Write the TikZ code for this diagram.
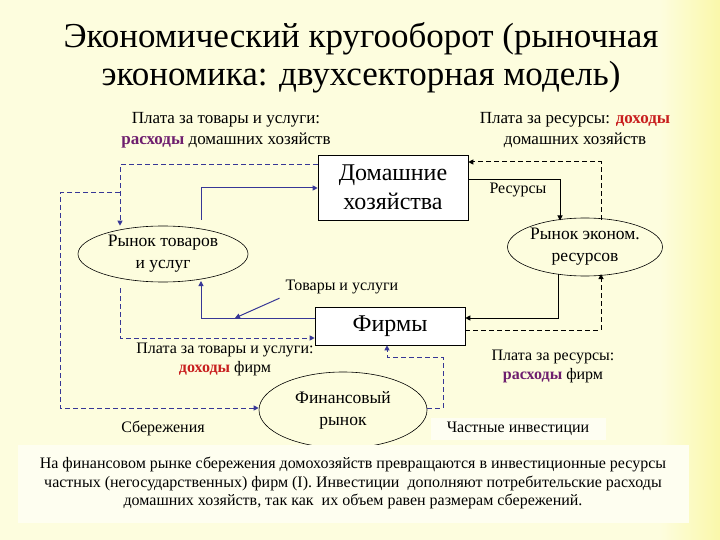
\documentclass[tikz,border=0pt]{standalone}
\usepackage{fontspec}
\setmainfont{Liberation Serif}
\usetikzlibrary{arrows.meta,shapes.geometric}
\definecolor{bgc}{RGB}{253,253,222}
\definecolor{bgr}{RGB}{250,248,170}
\definecolor{ln}{RGB}{55,55,150}
\definecolor{pur}{RGB}{110,30,110}
\definecolor{rd}{RGB}{200,30,30}
\tikzset{
 lbl/.style={font=\fontsize{16}{19}\selectfont,align=center,inner sep=0pt},
 bx/.style={draw,fill=white,line width=0.6pt},
 ell/.style={draw,ellipse,line width=0.6pt,fill=bgc,inner sep=0pt},
 bsol/.style={draw=ln,line width=1pt,-{Triangle[length=5pt,width=5pt]}},
 bdash/.style={draw=ln,line width=1pt,dash pattern=on 5pt off 3pt,-{Triangle[length=5pt,width=5pt]}},
 ksol/.style={draw=black,line width=1pt,-{Triangle[length=5pt,width=5pt]}},
 kdash/.style={draw=black,line width=1pt,dash pattern=on 5pt off 3pt,-{Triangle[length=5pt,width=5pt]}},
}
\begin{document}
\begin{tikzpicture}[x=1pt,y=-1pt]
\useasboundingbox (0,0) rectangle (720,540);
\fill[bgc] (0,0) rectangle (720,540);
\shade[left color=bgc,right color=bgr] (660,0) rectangle (720,540);
\node[font=\fontsize{35}{38}\selectfont,align=center] (title) at (361,58) {Экономический кругооборот (рыночная\\экономика: двухсекторная модель)};
\node[lbl,font=\fontsize{17}{21}\selectfont] (tl) at (226,130) {Плата за товары и услуги:\\\textcolor{pur}{\textbf{расходы}} домашних хозяйств};
\node[lbl,font=\fontsize{17}{21}\selectfont] (tr) at (575,130) {Плата за ресурсы: \textcolor{rd}{\textbf{доходы}}\\домашних хозяйств};
\node[bx,minimum width=150pt,minimum height=65pt,font=\fontsize{24}{29}\selectfont,align=center] (hh) at (393,187.5) {Домашние\\хозяйства};
\node[bx,minimum width=150pt,minimum height=38pt,font=\fontsize{24}{29}\selectfont] (f) at (390,326) {Фирмы};
\node[ell,minimum width=170pt,minimum height=56pt,font=\fontsize{17.5}{22}\selectfont,align=center] (gm) at (163,254) {Рынок товаров\\и услуг};
\node[ell,minimum width=142pt,minimum height=58pt,font=\fontsize{17.5}{22}\selectfont,align=center] (rm) at (585,247) {Рынок эконом.\\ресурсов};
\node[ell,minimum width=168pt,minimum height=76pt,font=\fontsize{17.5}{22}\selectfont,align=center] (fm) at (343,410) {Финансовый\\рынок};
\node[lbl] (res) at (518,190) {Ресурсы};
\node[lbl] (gs) at (342,287) {Товары и услуги};
\node[lbl] (bl) at (225,359) {Плата за товары и услуги:\\\textcolor{rd}{\textbf{доходы}} фирм};
\node[lbl] (br) at (553,366) {Плата за ресурсы:\\\textcolor{pur}{\textbf{расходы}} фирм};
\node[lbl] (sav) at (163,428) {Сбережения};
\node[lbl,fill=white!60!bgc,minimum width=175pt,minimum height=22pt] (inv) at (518,429) {Частные инвестиции};
\node[fill=white!55!bgc,minimum width=671pt,minimum height=78pt,inner sep=0pt] (tb) at (353,484) {};
\node[lbl,font=\fontsize{16}{18.5}\selectfont] (txt) at (353,483) {На финансовом рынке сбережения домохозяйств превращаются в инвестиционные ресурсы\\частных (негосударственных) фирм (I). Инвестиции \ дополняют потребительские расходы\\домашних хозяйств, так как \ их объем равен размерам сбережений.};
% coordinates
\coordinate (a1) at (201,220);
\coordinate (a2) at (201,188);
\coordinate (b1) at (120,165);
\coordinate (b2) at (120,193);
\coordinate (c1) at (60,193);
\coordinate (c2) at (60,408);
\coordinate (d1) at (120,288);
\coordinate (d2) at (120,338);
\coordinate (e1) at (201,318);
\coordinate (g1) at (560,180);
\coordinate (h1) at (601,162);
\coordinate (i1) at (558,318);
\coordinate (j1) at (601,330);
\coordinate (k1) at (443,408);
\coordinate (k2) at (443,357);
\coordinate (k3) at (387,357);
% left side
\draw[bsol] (a1) -- (a2) -- (a2 -| hh.west);
\draw[bdash] (b1 -| hh.west) -- (b1) -- (b1 |- gm.north);
\draw[bdash] (b2) -- (c1) -- (c2) -- (c2 -| fm.west);
\draw[bdash] (d1) -- (d2) -- (d2 -| f.west);
\draw[bsol] (e1 -| f.west) -- (e1) -- (201,281);
\draw[draw=ln,line width=1pt,-{Triangle[length=5pt,width=5pt]}] (gs.south west) ++(-6,4) -- (235,318);
% right side
\draw[ksol] (g1 -| hh.east) -- (g1) -- (560,220.5);
\draw[kdash] (601,220) -- (h1) -- (h1 -| hh.east);
\draw[ksol] (558,274) -- (i1) -- (i1 -| f.east);
\draw[kdash] (j1 -| f.east) -- (j1) -- (601,274);
% financial
\draw[bdash] (k1 -| fm.east) -- (k1) -- (k2) -- (k3) -- (k3 |- f.south);
\end{tikzpicture}
\end{document}
